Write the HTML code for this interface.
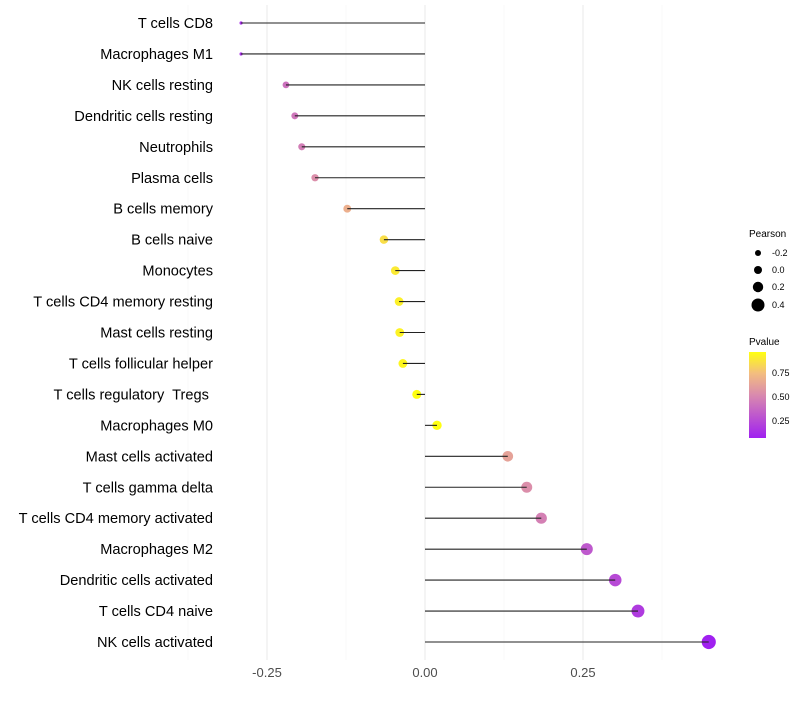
<!DOCTYPE html>
<html><head><meta charset="utf-8"><style>
body{margin:0;background:#fff;font-family:"Liberation Sans",sans-serif;}
text{white-space:pre;}
</style></head><body>
<svg id="chart" width="800" height="700" xmlns="http://www.w3.org/2000/svg">
<defs><linearGradient id="pg" x1="0" y1="1" x2="0" y2="0">
<stop offset="0" stop-color="#a020f0"/><stop offset="0.5" stop-color="#d98aae"/><stop offset="0.75" stop-color="#f3bd80"/><stop offset="1" stop-color="#ffff10"/></linearGradient></defs>
<g id="grid"></g><g id="marks"></g><g id="labels"></g>
<g font-size="9" fill="#000">
<text x="749" y="237" font-size="10">Pearson</text>
<circle cx="758" cy="253" r="3"/><text x="772" y="256">-0.2</text>
<circle cx="758" cy="270" r="4"/><text x="772" y="273">0.0</text>
<circle cx="758" cy="287" r="5.2"/><text x="772" y="290">0.2</text>
<circle cx="758" cy="305" r="6.5"/><text x="772" y="308">0.4</text>
</g>
<g font-size="9" fill="#000">
<text x="749" y="345" font-size="10">Pvalue</text>
<rect x="749" y="352" width="17" height="86" fill="url(#pg)"/>
<text x="772" y="376">0.75</text><text x="772" y="400">0.50</text><text x="772" y="424">0.25</text>
</g>
</svg>
<script>
const cells=["T cells CD8","Macrophages M1","NK cells resting","Dendritic cells resting","Neutrophils","Plasma cells","B cells memory","B cells naive","Monocytes","T cells CD4 memory resting","Mast cells resting","T cells follicular helper","T cells regulatory  Tregs ","Macrophages M0","Mast cells activated","T cells gamma delta","T cells CD4 memory activated","Macrophages M2","Dendritic cells activated","T cells CD4 naive","NK cells activated"];
const pearson=[-0.291,-0.291,-0.22,-0.206,-0.195,-0.174,-0.123,-0.065,-0.047,-0.041,-0.040,-0.035,-0.013,0.019,0.131,0.161,0.184,0.256,0.301,0.337,0.449];
const pvalue=[0.12,0.12,0.4,0.42,0.45,0.52,0.68,0.86,0.9,0.92,0.93,0.94,0.97,0.98,0.62,0.52,0.46,0.3,0.24,0.18,0.07];
const xticks=[-0.25,0,0.25];
const xtickLabels=["-0.25","0.00","0.25"];
const NS="http://www.w3.org/2000/svg";
const X=v=>425+v*632, Y=i=>23+i*30.95;
function mk(t,a,p){const e=document.createElementNS(NS,t);for(const k in a)e.setAttribute(k,a[k]);p.appendChild(e);return e;}
function lerp(a,b,t){return a.map((x,i)=>Math.round(x+(b[i]-x)*t));}
function col(p){const st=[[0.07,[160,32,240]],[0.5,[217,138,174]],[0.75,[243,189,128]],[0.97,[255,255,16]]];
 p=Math.max(0.07,Math.min(0.97,p));for(let i=0;i<st.length-1;i++){if(p<=st[i+1][0]){const c=lerp(st[i][1],st[i+1][1],(p-st[i][0])/(st[i+1][0]-st[i][0]));return `rgb(${c})`;}}return "rgb(255,255,16)";}
function rad(v){return v<-0.25?1.6:4.6+5.5*v;}
const grid=document.getElementById('grid'),marks=document.getElementById('marks'),labels=document.getElementById('labels');
[-0.375,-0.125,0.125,0.375].forEach(v=>{const l=mk('line',{x1:X(v),x2:X(v),y1:5,y2:660,stroke:'#f3f3f3','stroke-width':0.6},grid);

});
xticks.forEach((v,i)=>{const l=mk('line',{x1:X(v),x2:X(v),y1:5,y2:660,stroke:'#ebebeb','stroke-width':1.1},grid);


const t=mk('text',{x:X(v),y:677,'text-anchor':'middle','font-size':13,fill:'#4d4d4d'},labels);t.textContent=xtickLabels[i];

});
cells.forEach((c,i)=>{
 const t=mk('text',{x:213,y:Y(i)+5,'text-anchor':'end','font-size':14.6,fill:'#000'},labels);t.textContent=c;
 
 
 const d=mk('circle',{cx:X(pearson[i]),cy:Y(i),r:rad(pearson[i]),fill:col(pvalue[i])},marks);
 
 
 const l=mk('line',{x1:X(0),x2:X(pearson[i]),y1:Y(i),y2:Y(i),stroke:'#222','stroke-width':1.1},marks);
 
 
});
</script>
</body></html>
